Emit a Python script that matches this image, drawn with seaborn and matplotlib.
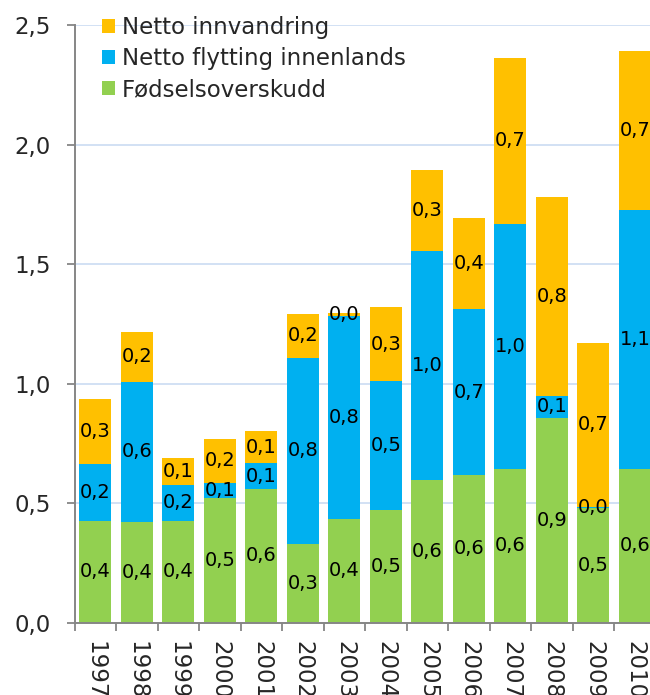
import numpy as np
import pandas as pd
import matplotlib
matplotlib.use("Agg")
import matplotlib.pyplot as plt
from matplotlib.patches import Patch
import seaborn as sns

# Values
years = ["1997", "1998", "1999", "2000", "2001", "2002", "2003",
         "2004", "2005", "2006", "2007", "2008", "2009", "2010"]
fodsel = [0.425, 0.420, 0.426, 0.523, 0.560, 0.331, 0.436,
          0.472, 0.597, 0.618, 0.644, 0.856, 0.479, 0.644]
innenlands = [0.241, 0.589, 0.152, 0.063, 0.107, 0.778, 0.848,
              0.538, 0.956, 0.694, 1.025, 0.094, 0.004, 1.083]
innvandring = [0.270, 0.206, 0.111, 0.183, 0.136, 0.184, 0.012,
               0.310, 0.339, 0.380, 0.693, 0.830, 0.689, 0.663]

series_names = ["Netto innvandring", "Netto flytting innenlands", "Fødselsoverskudd"]
colors = {"Netto innvandring": "#FFC000",
          "Netto flytting innenlands": "#00B0F0",
          "Fødselsoverskudd": "#92D050"}
yticks = [0.0, 0.5, 1.0, 1.5, 2.0, 2.5]

df = pd.DataFrame({"year": years, "fodsel": fodsel,
                   "innenlands": innenlands, "innvandring": innvandring})
df["lvl1"] = df["fodsel"]
df["lvl2"] = df["fodsel"] + df["innenlands"]
df["lvl3"] = df["lvl2"] + df["innvandring"]

sns.set_style("white")
plt.rcParams["font.family"] = ["DejaVu Sans"]

fig = plt.figure(figsize=(6.5, 6.95), dpi=100)
ax = fig.add_axes([0.1149, 0.1039, 0.8938, 0.8601])

# stacked bars: draw cumulative totals from the top layer down
bw = 0.77
sns.barplot(data=df, x="year", y="lvl3", color=colors["Netto innvandring"],
            saturation=1, width=bw, errorbar=None, linewidth=0, ax=ax)
sns.barplot(data=df, x="year", y="lvl2", color=colors["Netto flytting innenlands"],
            saturation=1, width=bw, errorbar=None, linewidth=0, ax=ax)
sns.barplot(data=df, x="year", y="lvl1", color=colors["Fødselsoverskudd"],
            saturation=1, width=bw, errorbar=None, linewidth=0, ax=ax)

# segment labels
for i, row in df.iterrows():
    bottom = 0
    for val in [row["fodsel"], row["innenlands"], row["innvandring"]]:
        ax.text(i, bottom + val / 2, f"{val:.1f}".replace(".", ","),
                ha="center", va="center", fontsize=14, color="black")
        bottom += val

ax.set_ylim(0, 2.5)
ax.set_xlim(-0.5, len(years) - 0.5)
ax.set_yticks(yticks)
ax.set_yticklabels([f"{t:.1f}".replace(".", ",") for t in yticks], fontsize=16.5)
ax.set_xticks(range(len(years)))
ax.set_xticklabels(years, rotation=-90, fontsize=16.5, va="top")
ax.set_xticks(np.arange(-0.5, len(years) + 0.5, 1), minor=True)
ax.tick_params(axis="x", which="major", bottom=True, length=0, pad=13)
ax.tick_params(axis="x", which="minor", bottom=True, length=6, width=1.3,
               color="#868686", direction="out")
ax.tick_params(axis="y", left=True, length=6, width=1.3, color="#868686",
               direction="out", pad=11)
ax.set_xlabel("")
ax.set_ylabel("")

ax.set_axisbelow(True)
ax.yaxis.grid(True, color="#C6D9F1", linewidth=1.1)
ax.xaxis.grid(False)
for side in ["top", "right"]:
    ax.spines[side].set_visible(False)
for side in ["left", "bottom"]:
    ax.spines[side].set_color("#868686")
    ax.spines[side].set_linewidth(1.4)

handles = [Patch(facecolor=colors[n], edgecolor="none", label=n) for n in series_names]
fig.legend(handles=handles, loc="upper left", bbox_to_anchor=(0.1565, 0.977),
           bbox_transform=fig.transFigure, frameon=False, fontsize=16.5,
           handlelength=0.57, handleheight=0.57, handletextpad=0.3,
           labelspacing=0.36, borderpad=0, borderaxespad=0)

fig.savefig("out.png", dpi=100)
